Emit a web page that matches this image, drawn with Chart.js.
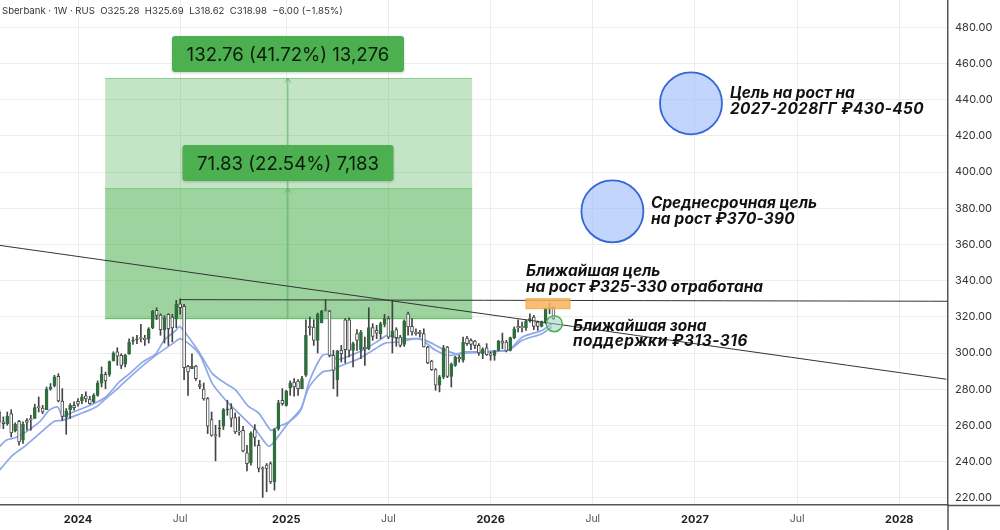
<!DOCTYPE html>
<html>
<head>
<meta charset="utf-8">
<title>Sberbank 1W</title>
<script src="https://cdn.jsdelivr.net/npm/chart.js@4"></script>
<style>
  html, body { margin: 0; padding: 0; background: #fff; }
</style>
</head>
<body>
<canvas id="chart" width="1000" height="530"></canvas>
<script>
// Weekly candles. First candle is 20 weeks before Jan 2024.
var firstWeek = -20;
var opens = [267.4,261.9,261.0,266.5,256.9,262.3,251.8,262.8,263.6,263.8,270.2,269.6,268.7,280.1,281.8,287.1,273.5,264.7,268.7,271.1,
  273.3,273.5,276.4,274.6,273.0,276.6,283.4,288.2,288.2,295.6,300.7,298.7,293.8,299.3,306.6,307.3,308.4,308.3,307.7,313.8,
  323.6,321.0,312.9,321.4,319.9,319.0,327.2,325.8,292.6,291.4,292.8,282.5,280.0,274.8,263.2,254.9,258.1,259.5,268.4,269.3,
  264.3,256.9,257.3,244.8,239.3,257.7,249.0,236.5,238.0,238.9,228.8,258.2,273.9,271.1,280.7,284.0,284.5,280.3,287.7,314.8,
  314.4,307.0,316.8,323.7,323.2,298.7,285.3,301.5,318.4,318.4,301.5,310.7,301.8,303.1,302.4,314.0,312.5,310.7,315.8,319.0,
  308.8,312.9,308.8,304.8,321.7,314.7,311.6,311.4,310.7,303.3,295.6,290.8,282.2,286.8,303.3,287.1,293.2,297.6,296.0,308.3,
  307.0,306.6,304.2,299.6,302.9,299.6,298.7,301.5,306.6,306.1,301.5,308.5,314.7,314.7,314.0,318.0,319.9,317.1,314.7,317.1,
  325.4,325.28];
var highs = [268.4,264.7,267.4,268.7,261.4,262.8,261.9,263.8,265.6,271.7,275.7,271.1,281.2,283.1,287.7,288.6,280.3,269.3,272.0,273.0,
  274.8,277.2,278.5,276.1,277.6,284.6,292.3,289.5,295.6,300.7,302.9,299.6,299.3,307.9,308.8,309.8,315.8,309.8,314.0,323.6,
  325.0,321.7,320.6,321.7,321.4,329.1,330.0,326.9,293.2,299.6,293.2,284.9,283.4,275.4,267.4,260.1,262.8,269.3,273.9,272.0,
  266.9,264.7,259.5,249.0,256.4,260.4,251.8,237.1,238.9,239.8,258.2,273.9,280.3,279.4,284.6,285.8,285.3,287.1,318.4,319.9,
  318.4,322.1,323.6,329.4,323.6,301.5,301.5,304.2,319.0,319.5,306.1,312.9,312.5,308.8,325.0,316.2,315.3,317.1,321.4,320.2,
  329.1,314.0,309.8,318.4,322.6,319.0,313.4,312.5,313.4,303.7,296.0,291.4,287.7,304.2,303.7,294.5,298.2,298.7,308.8,309.2,
  307.9,307.0,305.2,302.9,305.2,300.6,301.5,307.0,311.0,307.0,308.8,314.4,318.4,317.1,318.4,321.7,320.8,317.7,317.7,325.0,
  327.6,325.69];
var lows = [258.2,258.2,260.1,253.6,256.4,249.0,250.0,257.3,257.3,263.8,267.4,266.5,268.7,279.4,281.2,273.0,262.8,255.1,263.8,268.4,
  270.6,272.0,273.0,271.7,272.4,276.1,281.2,280.3,287.1,295.6,293.2,291.4,292.3,299.3,304.8,305.2,306.1,304.2,305.5,313.4,
  318.4,309.8,305.5,304.2,306.1,314.0,321.4,285.3,276.6,291.4,284.9,280.3,273.9,255.5,254.0,240.4,253.6,257.7,265.6,259.2,
  255.5,254.6,245.4,234.9,238.0,248.5,234.3,220.2,223.3,227.9,224.2,257.3,271.1,270.6,276.6,276.1,276.6,280.3,287.1,309.8,
  304.2,300.0,316.6,323.2,297.8,280.3,276.1,295.0,294.5,297.8,292.3,301.5,296.9,293.2,301.8,307.0,307.9,307.9,314.4,307.9,
  300.0,303.7,303.3,303.7,309.8,309.8,309.8,308.8,303.3,294.1,290.4,279.4,278.5,285.8,286.4,281.2,292.6,295.0,295.0,304.2,
  301.8,302.4,298.7,296.9,298.7,296.0,296.0,301.1,302.4,300.6,301.1,307.9,311.6,311.6,312.5,317.1,312.9,312.5,314.4,316.2,
  321.7,318.62];
var closes = [261.9,261.0,265.0,255.8,260.6,250.9,260.6,261.7,263.2,269.8,269.8,267.4,280.1,281.2,286.8,273.5,265.0,268.0,271.1,269.8,
  271.7,275.7,274.6,272.0,276.6,283.4,288.2,284.6,295.2,300.0,298.2,293.2,298.7,305.9,307.0,307.6,308.0,307.4,313.3,323.0,
  320.8,312.9,319.5,313.4,313.8,326.9,325.0,291.9,289.5,292.6,285.8,281.6,274.6,259.5,254.4,254.2,258.5,268.7,269.1,263.8,
  256.4,256.2,245.9,238.9,255.8,253.3,236.2,235.8,236.2,228.8,257.7,272.4,272.0,278.8,283.4,281.2,280.3,285.8,309.8,314.0,
  307.0,321.4,323.2,323.5,298.7,290.4,301.1,299.6,301.8,301.5,305.2,307.0,311.6,302.4,314.0,309.2,311.0,316.2,319.0,308.8,
  312.2,308.5,304.2,317.7,314.4,311.6,310.7,310.7,303.3,294.5,290.8,282.2,286.8,302.9,287.1,293.8,297.8,296.9,306.1,305.2,
  304.8,304.2,300.0,302.2,299.1,298.7,301.1,306.6,305.5,301.1,308.5,313.4,314.0,314.0,317.7,319.0,314.7,314.7,317.1,324.5,
  324.5,318.98];

// Moving averages
var fastWeeks = [-20,-18.3,-15.8,-13.2,-9.8,-7.3,-5.2,-3.9,-1.8,3.7,7.1,10.5,13.1,16.4,19.8,21.9,24.9,25.8,27.5,30.8,34.2,37.6,40.2,43.1,46.1,49.1,50.8,53.7,56.7,58.8,62.2,64.3,66,69.4,73.2,76.6,78.7,81.7,85.9,88.5,92.7,96.1,98.6,102.9,105.4,109.7,113.1,118.1,120.6];
var fastValues = [248.1,251.8,253.3,256.4,261.9,268.4,270.2,265.0,266.9,271.7,275.7,284.0,288.6,295.0,299.6,307.0,312.5,314.7,310.7,300.6,288.6,283.1,279.4,271.1,266.5,257.3,259.2,261.9,268.4,284.0,298.7,299.1,296.3,298.7,302.4,307.0,309.8,307.9,307.9,307.0,302.4,299.6,300.6,300.6,301.1,301.8,308.8,312.5,316.2];
var slowWeeks = [-20,-16.6,-13.2,-9.8,-6,-3.9,0.3,4.6,7.1,10.5,15.6,19.8,24.1,26.2,30.8,34.2,37.6,41,45.3,48.6,51.2,53.7,56.7,58.8,62.2,64.3,67.2,71.5,75.7,78.2,81.7,86.8,91,94.4,99.5,105.4,109.7,113.1,118.1,120.6];
var slowValues = [235.2,243.5,249.0,255.5,262.3,262.8,266.2,270.2,274.8,281.2,291.4,298.7,305.2,307.9,299.6,283.1,273.9,266.5,257.3,248.5,254.6,261.9,269.3,281.2,289.5,290.4,293.2,296.9,302.4,305.5,306.1,307.9,301.5,298.7,300.0,300.6,301.8,307.0,310.7,314.4];

// Drawn lines
var trendWeeks = [-20, 221];
var trendValues = [359.5, 285.5];
var resistWeeks = [26, 221.4];
var resistValues = [329.5, 328.6];

// Long position tool
var posWeeks = [6.9, 100.3];
var arrowWeek = 53.4;
var entryPrice = 318.98;
var targetPrices = [390.81, 451.74];
var posLabels = ['71.83 (22.54%) 7,183', '132.76 (41.72%) 13,276'];

// Target circles and zones
var targetWeeks = [156, 136];
var targetValues = [438, 378.3];
var supportWeek = [121.2];
var supportValue = [316.2];
var zoneWeeks = [114, 125.2];
var zonePrices = [324.5, 330];

// Axes
var xTickWeeks = [0, 26, 53, 79, 105, 131, 157, 183, 209];
var xTickLabels = ['2024', 'Jul', '2025', 'Jul', '2026', 'Jul', '2027', 'Jul', '2028'];
var yTicks = [220, 240, 260, 280, 300, 320, 340, 360, 380, 400, 420, 440, 460, 480];

var headerText = 'Sberbank · 1W · RUS  O325.28  H325.69  L318.62  C318.98  −6.00 (−1.85%)';

function pairs(xs, ys) {
    return xs.map(function(x, i) { return { x: x, y: ys[i] }; });
}

var weeks = opens.map(function(o, i) { return firstWeek + i; });
var bodyColors = opens.map(function(o, i) { return closes[i] >= o ? '#2f6e3e' : '#ffffff'; });
var edgeColors = opens.map(function(o, i) { return closes[i] >= o ? '#2f6e3e' : '#4a4a4a'; });

function lineSet(xs, ys, color, width, order) {
    return {
        type: 'line',
        data: pairs(xs, ys),
        borderColor: color,
        borderWidth: width,
        pointRadius: 0,
        tension: 0.25,
        fill: false,
        order: order
    };
}

function circleSet(xs, ys, radius, fillColor, lineColor, lineWidth, order) {
    return {
        type: 'scatter',
        data: pairs(xs, ys),
        pointRadius: radius,
        pointHoverRadius: radius,
        pointBackgroundColor: fillColor,
        pointBorderColor: lineColor,
        pointBorderWidth: lineWidth,
        order: order
    };
}

function isJulTick(c) {
    return !!c.tick && xTickLabels[xTickWeeks.indexOf(c.tick.value)] === 'Jul';
}

// Labels may hang over the canvas edge, the plot must reach it
function noPadding(scale) {
    scale.paddingLeft = 0;
    scale.paddingRight = 0;
    scale.paddingTop = 0;
    scale.paddingBottom = 0;
}

// Green boxes, orange zone, arrow: go under the candles
var zonesPlugin = {
    id: 'zones',
    beforeDatasetsDraw: function(chart) {
        var c = chart.ctx, x = chart.scales.x, y = chart.scales.y;
        var left = x.getPixelForValue(posWeeks[0]), right = x.getPixelForValue(posWeeks[1]);
        var bottom = y.getPixelForValue(entryPrice);
        c.save();
        targetPrices.forEach(function(p) {
            var top = y.getPixelForValue(p);
            c.fillStyle = 'rgba(76,175,80,0.33)';
            c.fillRect(left, top, right - left, bottom - top);
            c.strokeStyle = 'rgba(76,175,80,0.55)';
            c.lineWidth = 1;
            c.beginPath();
            c.moveTo(left, top);
            c.lineTo(right, top);
            c.stroke();
        });
        c.strokeStyle = 'rgba(76,175,80,0.9)';
        c.beginPath();
        c.moveTo(left, bottom);
        c.lineTo(right, bottom);
        c.stroke();

        var ax = x.getPixelForValue(arrowWeek);
        c.strokeStyle = 'rgba(76,175,80,0.8)';
        c.beginPath();
        c.moveTo(ax, bottom);
        c.lineTo(ax, y.getPixelForValue(targetPrices[1]));
        c.stroke();
        targetPrices.forEach(function(p) {
            var top = y.getPixelForValue(p);
            c.beginPath();
            c.moveTo(ax - 3, top + 4);
            c.lineTo(ax, top);
            c.lineTo(ax + 3, top + 4);
            c.stroke();
        });
        c.restore();
    },
    afterDatasetsDraw: function(chart) {
        var c = chart.ctx, x = chart.scales.x, y = chart.scales.y;
        var zx = x.getPixelForValue(zoneWeeks[0]), zw = x.getPixelForValue(zoneWeeks[1]) - zx;
        var zt = y.getPixelForValue(zonePrices[1]), zh = y.getPixelForValue(zonePrices[0]) - zt;
        c.save();
        c.fillStyle = 'rgba(247,180,90,0.85)';
        c.strokeStyle = 'rgba(240,165,70,0.9)';
        c.lineWidth = 1;
        c.fillRect(zx, zt, zw, zh);
        c.strokeRect(zx, zt, zw, zh);
        c.restore();
    }
};

function pill(c, text, cx, cy, w, h) {
    c.fillStyle = '#4caf50';
    c.shadowColor = 'rgba(0,0,0,0.2)';
    c.shadowBlur = 3;
    c.shadowOffsetY = 1;
    c.beginPath();
    c.roundRect(cx - w / 2, cy - h / 2, w, h, 3);
    c.fill();
    c.shadowColor = 'transparent';
    c.shadowBlur = 0;
    c.shadowOffsetY = 0;
    c.fillStyle = '#0b1c0b';
    c.font = '18.6px Inter';
    c.textAlign = 'center';
    c.textBaseline = 'middle';
    c.fillText(text, cx, cy + 1);
}

function note(c, text, x, y, spacing) {
    c.letterSpacing = spacing + 'px';
    c.fillText(text, x, y);
    c.letterSpacing = '0px';
}

var notesPlugin = {
    id: 'notes',
    afterDraw: function(chart) {
        var c = chart.ctx;
        c.save();
        // axis lines run on past the plot corner
        c.strokeStyle = '#555';
        c.lineWidth = 1.5;
        c.beginPath();
        c.moveTo(948, 505.5);
        c.lineTo(1000, 505.5);
        c.moveTo(948, 505);
        c.lineTo(948, 530);
        c.stroke();

        c.fillStyle = '#333';
        c.font = '9.6px Inter';
        c.textAlign = 'left';
        c.textBaseline = 'middle';
        c.fillText(headerText, 2, 11);

        pill(c, posLabels[1], 288, 54, 232, 36);
        pill(c, posLabels[0], 288, 163, 211, 36);

        c.fillStyle = '#111';
        c.textAlign = 'left';
        c.font = 'italic 700 15.4px Inter';
        note(c, 'Цель на рост на', 730, 93, 0);
        note(c, '2027-2028ГГ ₽430-450', 730, 109, 0.35);
        note(c, 'Среднесрочная цель', 651, 203, 0);
        note(c, 'на рост ₽370-390', 651, 219, 0.2);
        note(c, 'Ближайшая цель', 526, 271, 0);
        note(c, 'на рост ₽325-330 отработана', 526, 287, 0);
        note(c, 'Ближайшая зона', 573, 326, 0);
        note(c, 'поддержки ₽313-316', 573, 341, 0.55);
        c.restore();
    }
};

var ctx = document.getElementById('chart').getContext('2d');
var chart = new Chart(ctx, {
    type: 'bar',
    data: {
        datasets: [
            circleSet(targetWeeks, targetValues, 31, 'rgba(160,190,252,0.65)', '#3566d6', 1.8, 1),
            circleSet(supportWeek, supportValue, 8, 'rgba(150,205,190,0.5)', '#4caf50', 1.5, 1),
            lineSet(trendWeeks, trendValues, '#333333', 1, 2),
            lineSet(resistWeeks, resistValues, '#333333', 1, 2),
            {
                data: weeks.map(function(w, i) { return { x: w, y: [opens[i], closes[i]] }; }),
                backgroundColor: bodyColors,
                borderColor: edgeColors,
                borderWidth: 1,
                borderSkipped: false,
                barThickness: 3,
                minBarLength: 1,
                grouped: false,
                order: 3
            },
            {
                data: weeks.map(function(w, i) { return { x: w, y: [lows[i], highs[i]] }; }),
                backgroundColor: '#444444',
                barThickness: 1,
                grouped: false,
                order: 4
            },
            lineSet(fastWeeks, fastValues, '#8fa9e8', 1.7, 5),
            lineSet(slowWeeks, slowValues, '#8fa9e8', 1.7, 5)
        ]
    },
    options: {
        responsive: false,
        animation: false,
        layout: { padding: 0, autoPadding: false },
        plugins: {
            legend: { display: false },
            tooltip: { enabled: false }
        },
        scales: {
            x: {
                type: 'linear',
                offset: false,
                min: -19.85,
                max: 221.4,
                afterFit: function(scale) { scale.height = 25; noPadding(scale); },
                afterBuildTicks: function(scale) {
                    scale.ticks = xTickWeeks.map(function(w) { return { value: w }; });
                },
                grid: { color: '#ececec', offset: false, drawTicks: false },
                border: { color: '#555', width: 1.5 },
                ticks: {
                    autoSkip: false,
                    maxRotation: 0,
                    padding: 8,
                    color: function(c) { return isJulTick(c) ? '#555' : '#222'; },
                    font: function(c) {
                        var jul = isJulTick(c);
                        return { family: 'Inter', size: jul ? 10.5 : 11, weight: jul ? '400' : '700' };
                    },
                    callback: function(v) { return xTickLabels[xTickWeeks.indexOf(v)]; }
                }
            },
            y: {
                position: 'right',
                min: 216,
                max: 495.1,
                afterFit: function(scale) { scale.width = 52; noPadding(scale); },
                afterBuildTicks: function(scale) {
                    scale.ticks = yTicks.map(function(v) { return { value: v }; });
                },
                grid: { color: '#ececec', drawTicks: false },
                border: { color: '#555', width: 1.5 },
                ticks: {
                    padding: 7,
                    color: '#333',
                    font: { family: 'Inter', size: 11 },
                    callback: function(v) { return v.toFixed(2); }
                }
            }
        }
    },
    plugins: [zonesPlugin, notesPlugin]
});
</script>
</body>
</html>
